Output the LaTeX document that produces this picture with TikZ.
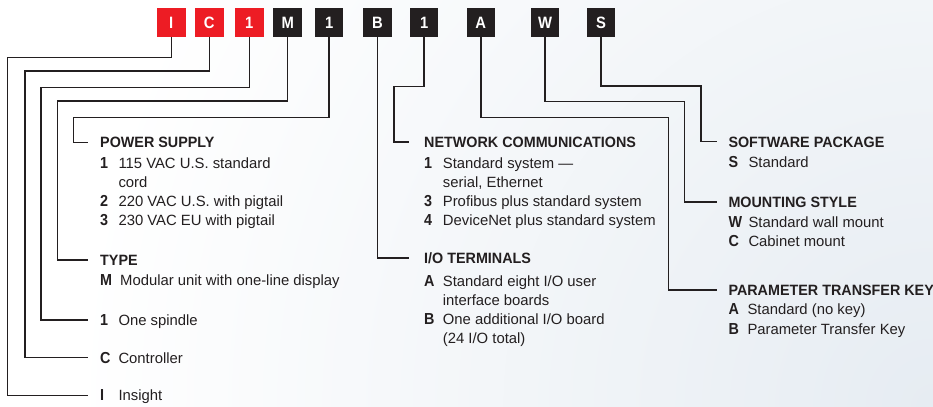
\documentclass[tikz,border=0pt]{standalone}
\usepackage{fontspec}
\setmainfont{Liberation Sans}
\newfontfamily\headfont{Liberation Sans}[FakeStretch=0.96]
\newfontfamily\keyfont{Liberation Sans}[FakeStretch=0.9]
\definecolor{ink}{HTML}{231F20}
\definecolor{codered}{HTML}{ED1C24}
\definecolor{bgtint}{RGB}{230,236,242}
\newcommand\kyw[2][18.3bp]{\makebox[#1][l]{\keyfont\bfseries\fontsize{16}{19.3}\selectfont #2}}
\begin{document}
\begin{tikzpicture}[x=1bp,y=-1bp,
  codebox/.style={minimum width=28.5bp, minimum height=28.7bp, inner sep=0pt, text=white,
    font=\keyfont\bfseries\fontsize{16.5}{16.5}\selectfont},
  redbox/.style={codebox, fill=codered},
  blackbox/.style={codebox, fill=ink},
  lead/.style={draw=ink, line width=1.5bp},
  headlbl/.style={anchor=west, inner sep=0pt, text=ink, text height=10.6bp, text depth=0bp,
    font=\headfont\bfseries\fontsize{15}{19.3}\selectfont},
  itemlbl/.style={anchor=west, inner sep=0pt, text=ink, text height=10.6bp, text depth=0bp,
    font=\fontsize{14.9}{19.3}\selectfont},
  itemblock/.style={anchor=base west, inner sep=0pt, text=ink,
    font=\fontsize{14.9}{19.3}\selectfont},
]
\useasboundingbox (0,0) rectangle (933,406);
\begin{scope}
  \clip (0,0) rectangle (933,406);
  \fill[white] (0,0) rectangle (933,406);
  \shade[inner color=bgtint, outer color=white] (933,406) circle (860);
\end{scope}

% code boxes
\node[redbox]   (bI) at (171.3,22.35) {I};
\node[redbox]   (bC) at (209.3,22.35) {C};
\node[redbox]   (b3) at (249.3,22.35) {1};
\node[blackbox] (bM) at (287.7,22.35) {M};
\node[blackbox] (b5) at (329.2,22.35) {1};
\node[blackbox] (bB) at (377.5,22.35) {B};
\node[blackbox] (b7) at (424.2,22.35) {1};
\node[blackbox] (bA) at (480.8,22.35) {A};
\node[blackbox] (bW) at (545.2,22.35) {W};
\node[blackbox] (bS) at (601.0,22.35) {S};

% left group
\node[headlbl] (tPS) at (100,142.3) {POWER SUPPLY};
\node[itemblock] (iPS) at (100,168) {\begin{tabular}[t]{@{}l@{}}
  \kyw{1}115 VAC U.S. standard\\
  \hspace{18.3bp}cord\\
  \kyw{2}220 VAC U.S. with pigtail\\
  \kyw{3}230 VAC EU with pigtail
\end{tabular}};
\node[headlbl] (tTY) at (100,260) {TYPE};
\node[itemlbl] (iTY) at (100,280) {\kyw[20bp]{M}Modular unit with one-line display};
\node[itemlbl] (t1S) at (100,320) {\kyw{1}One spindle};
\node[itemlbl] (tC) at (100,357.7) {\kyw{C}Controller};
\node[itemlbl] (tI) at (100,395.5) {\kyw{I}Insight};

% middle group
\node[headlbl] (tNC) at (424,142) {NETWORK COMMUNICATIONS};
\node[itemblock] (iNC) at (424,168) {\begin{tabular}[t]{@{}l@{}}
  \kyw[18.7bp]{1}Standard system —\\
  \hspace{18.7bp}serial, Ethernet\\
  \kyw[18.7bp]{3}Profibus plus standard system\\
  \kyw[18.7bp]{4}DeviceNet plus standard system
\end{tabular}};
\node[headlbl] (tIO) at (424,258) {I/O TERMINALS};
\node[itemblock] (iIO) at (424,286) {\begin{tabular}[t]{@{}l@{}}
  \kyw[18.7bp]{A}Standard eight I/O user\\
  \hspace{18.7bp}interface boards\\
  \kyw[18.7bp]{B}One additional I/O board\\
  \hspace{18.7bp}(24 I/O total)
\end{tabular}};

% right group
\node[headlbl] (tSP) at (728.3,141.7) {SOFTWARE PACKAGE};
\node[itemlbl] (iSP) at (728.3,162.3) {\kyw[20bp]{S}Standard};
\node[headlbl] (tMS) at (728.3,202) {MOUNTING STYLE};
\node[itemblock] (iMS) at (728.3,227) {\begin{tabular}[t]{@{}l@{}}
  \kyw[20bp]{W}Standard wall mount\\
  \kyw[20bp]{C}Cabinet mount
\end{tabular}};
\node[headlbl] (tPT) at (728.3,290) {PARAMETER TRANSFER KEY};
\node[itemblock] (iPT) at (728.3,314.8) {\begin{tabular}[t]{@{}l@{}}
  \kyw[19bp]{A}Standard (no key)\\
  \kyw[19bp]{B}Parameter Transfer Key
\end{tabular}};

% leader lines
\draw[lead] (bI.south) |- (7.7,57.3)  |- ([xshift=-11.7bp]tI.west);
\draw[lead] (bC.south) |- (25,71)     |- ([xshift=-11.7bp]tC.west);
\draw[lead] (b3.south) |- (41,87.7)   |- ([xshift=-11.7bp]t1S.west);
\draw[lead] (bM.south) |- (57.3,101)  |- ([xshift=-11.7bp]tTY.west);
\draw[lead] (b5.south) |- (73.3,117.7) |- ([xshift=-11.7bp]tPS.west);
\draw[lead] (bB.south) |- ([xshift=-14.7bp]tIO.west);
\draw[lead] (b7.south) |- (394,86.7)  |- ([xshift=-14.7bp]tNC.west);
\draw[lead] (bA.south) |- (668.3,117.3) |- ([xshift=-11.6bp]tPT.west);
\draw[lead] (bW.south) |- (684.3,101.7) |- ([xshift=-11.6bp]tMS.west);
\draw[lead] (bS.south) |- (701,86)    |- ([xshift=-11.6bp]tSP.west);
\end{tikzpicture}
\end{document}
